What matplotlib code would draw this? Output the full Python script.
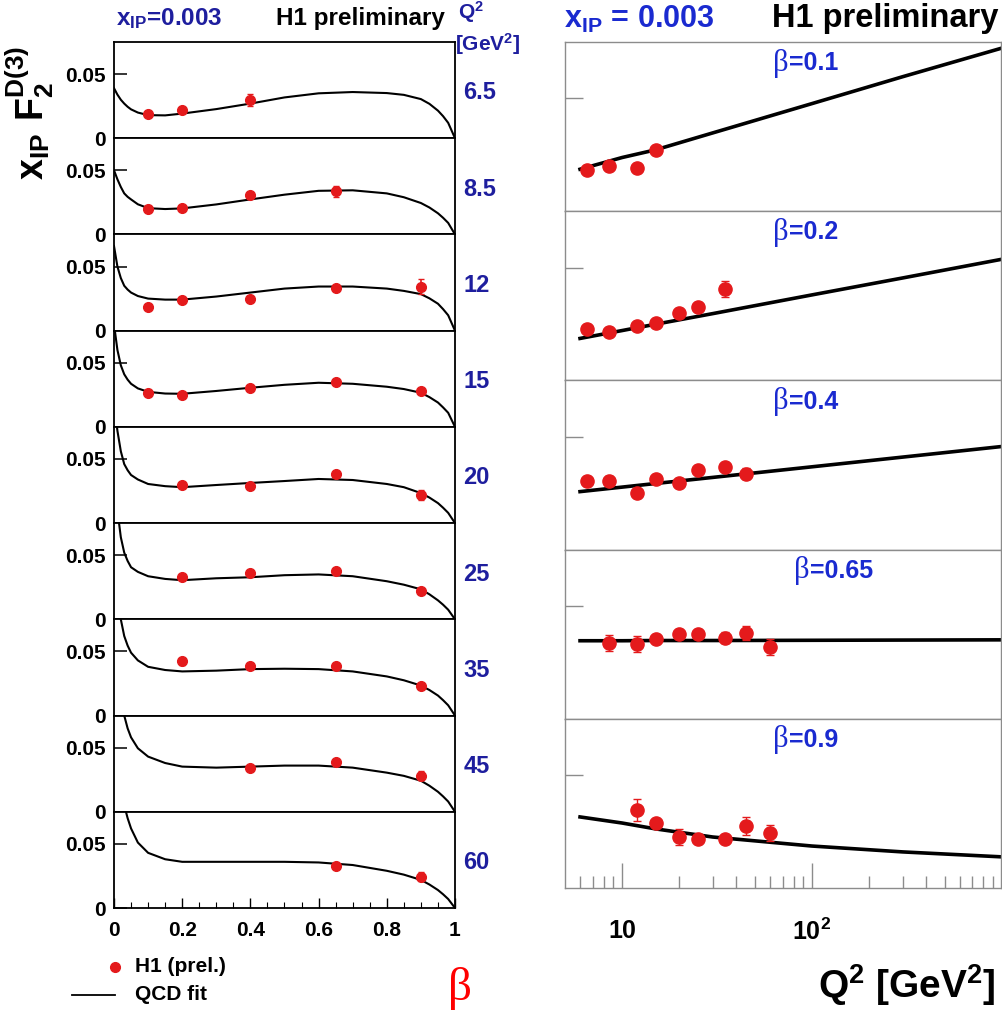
import matplotlib
matplotlib.use("Agg")
import matplotlib.pyplot as plt
from matplotlib.ticker import FixedLocator, NullFormatter, NullLocator

plt.rcParams['font.family'] = ['Liberation Sans', 'DejaVu Sans']
plt.rcParams['mathtext.fontset'] = 'custom'
plt.rcParams['mathtext.rm'] = 'Liberation Sans'
plt.rcParams['mathtext.bf'] = 'Liberation Sans:bold'
plt.rcParams['mathtext.default'] = 'bf'

# ---- left block: xIP F2D3 vs beta, one panel per Q2 ----
q2_labels = ['6.5', '8.5', '12', '15', '20', '25', '35', '45', '60']

left_beta = [
    [0.1, 0.2, 0.4],
    [0.1, 0.2, 0.4, 0.65],
    [0.1, 0.2, 0.4, 0.65, 0.9],
    [0.1, 0.2, 0.4, 0.65, 0.9],
    [0.2, 0.4, 0.65, 0.9],
    [0.2, 0.4, 0.65, 0.9],
    [0.2, 0.4, 0.65, 0.9],
    [0.4, 0.65, 0.9],
    [0.65, 0.9],
]
left_f2 = [
    [0.0188, 0.0219, 0.0297],
    [0.0195, 0.0203, 0.0305, 0.0336],
    [0.0188, 0.0242, 0.0250, 0.0336, 0.0344],
    [0.0266, 0.0250, 0.0305, 0.0352, 0.0281],
    [0.0297, 0.0289, 0.0383, 0.0219],
    [0.0328, 0.0360, 0.0375, 0.0219],
    [0.0422, 0.0383, 0.0383, 0.0227],
    [0.0344, 0.0390, 0.0281],
    [0.0328, 0.0242],
]
left_err = [
    [0.0012, 0.0015, 0.0045],
    [0.0012, 0.0012, 0.0018, 0.0045],
    [0.0012, 0.0012, 0.0015, 0.0020, 0.0055],
    [0.0012, 0.0012, 0.0012, 0.0015, 0.0020],
    [0.0012, 0.0015, 0.0015, 0.0040],
    [0.0020, 0.0015, 0.0015, 0.0015],
    [0.0030, 0.0015, 0.0015, 0.0015],
    [0.0015, 0.0025, 0.0035],
    [0.0020, 0.0035],
]

fit_beta = [0.0, 0.01, 0.02, 0.03, 0.04, 0.05, 0.07, 0.1, 0.15, 0.2, 0.3,
            0.4, 0.5, 0.6, 0.7, 0.8, 0.85, 0.9, 0.925, 0.95, 0.965, 0.98, 1.0]
fit_f2 = [
    [0.039, 0.034, 0.030, 0.027, 0.0245, 0.0225, 0.020, 0.018, 0.0178, 0.0192, 0.0227,
     0.0270, 0.0318, 0.0350, 0.0360, 0.0352, 0.0338, 0.0305, 0.0268, 0.0215, 0.0172, 0.012, 0.0],
    [0.050, 0.043, 0.037, 0.032, 0.0293, 0.0273, 0.0235, 0.0205, 0.0198, 0.0203, 0.0234,
     0.0273, 0.0310, 0.0340, 0.0344, 0.0320, 0.0290, 0.0245, 0.0210, 0.0165, 0.0130, 0.009, 0.0],
    [0.066, 0.050, 0.041, 0.035, 0.0320, 0.0297, 0.027, 0.0250, 0.0242, 0.0242, 0.0266,
     0.0297, 0.0328, 0.0344, 0.0344, 0.0328, 0.0310, 0.0285, 0.0252, 0.0210, 0.0168, 0.012, 0.0],
    [0.080, 0.060, 0.048, 0.041, 0.0368, 0.0336, 0.030, 0.0273, 0.0260, 0.0258, 0.0280,
     0.0305, 0.0328, 0.0344, 0.0336, 0.0313, 0.0295, 0.0266, 0.0232, 0.0190, 0.0152, 0.011, 0.0],
    [0.095, 0.072, 0.056, 0.046, 0.0412, 0.0375, 0.034, 0.0305, 0.0288, 0.0280, 0.0297,
     0.0313, 0.0328, 0.0344, 0.0336, 0.0305, 0.0280, 0.0234, 0.0199, 0.0156, 0.0120, 0.008, 0.0],
    [0.110, 0.085, 0.064, 0.052, 0.0455, 0.0406, 0.037, 0.0336, 0.0315, 0.0305, 0.0320,
     0.0328, 0.0344, 0.0350, 0.0336, 0.0297, 0.0270, 0.0234, 0.0195, 0.0148, 0.0114, 0.0075, 0.0],
    [0.120, 0.095, 0.075, 0.062, 0.0545, 0.0490, 0.043, 0.0380, 0.0355, 0.0344, 0.0350,
     0.0362, 0.0365, 0.0362, 0.0344, 0.0305, 0.0275, 0.0234, 0.0199, 0.0156, 0.0120, 0.008, 0.0],
    [0.130, 0.110, 0.090, 0.075, 0.0650, 0.0580, 0.0495, 0.0430, 0.0380, 0.0352, 0.0344,
     0.0352, 0.0360, 0.0360, 0.0344, 0.0305, 0.0280, 0.0242, 0.0203, 0.0156, 0.0120, 0.008, 0.0],
    [0.140, 0.120, 0.100, 0.080, 0.0700, 0.0620, 0.051, 0.0430, 0.0380, 0.0360, 0.0360,
     0.0360, 0.0360, 0.0355, 0.0335, 0.0290, 0.0260, 0.0219, 0.0183, 0.0140, 0.0107, 0.007, 0.0],
]

# ---- right block: xIP F2D3 vs Q2, one panel per beta ----
beta_labels = ['0.1', '0.2', '0.4', '0.65', '0.9']
right_q2 = [
    [6.5, 8.5, 12, 15],
    [6.5, 8.5, 12, 15, 20, 25, 35],
    [6.5, 8.5, 12, 15, 20, 25, 35, 45],
    [8.5, 12, 15, 20, 25, 35, 45, 60],
    [12, 15, 20, 25, 35, 45, 60],
]
right_f2 = [
    [0.0182, 0.0200, 0.0190, 0.0270],
    [0.0226, 0.0213, 0.0240, 0.0253, 0.0297, 0.0324, 0.0404],
    [0.0302, 0.0306, 0.0249, 0.0311, 0.0293, 0.0355, 0.0368, 0.0337],
    [0.0337, 0.0333, 0.0355, 0.0377, 0.0377, 0.0360, 0.0380, 0.0320],
    [0.0346, 0.0288, 0.0226, 0.0217, 0.0217, 0.0275, 0.0244],
]
right_err = [
    [0.0010, 0.0010, 0.0010, 0.0010],
    [0.0015, 0.0012, 0.0012, 0.0012, 0.0012, 0.0015, 0.0035],
    [0.0020, 0.0020, 0.0012, 0.0012, 0.0012, 0.0015, 0.0015, 0.0025],
    [0.0035, 0.0035, 0.0015, 0.0015, 0.0015, 0.0025, 0.0030, 0.0035],
    [0.0048, 0.0015, 0.0035, 0.0015, 0.0015, 0.0040, 0.0035],
]
fit_q2 = [6, 10, 15, 30, 100, 300, 1000]
fit_right = [
    [0.0186, 0.0238, 0.0272, 0.0347, 0.0477, 0.0596, 0.0723],
    [0.0186, 0.0221, 0.0249, 0.0296, 0.0379, 0.0454, 0.0537],
    [0.0257, 0.0277, 0.0293, 0.0320, 0.0367, 0.0410, 0.0457],
    [0.0346, 0.0346, 0.0347, 0.0347, 0.0348, 0.0349, 0.0350],
    [0.0315, 0.0288, 0.0262, 0.0226, 0.0186, 0.0160, 0.0138],
]

RED = '#e41a1c'
NAVY = '#1e1e9e'
BLUE = '#1a2ad0'
W, H = 1003, 1026

fig = plt.figure(figsize=(W / 100, H / 100), dpi=100)


def frac_box(x0, y0, x1, y1):
    return [x0 / W, 1 - y1 / H, (x1 - x0) / W, (y1 - y0) / H]


# left panels
ptop, pbot = 42, 908
ph = (pbot - ptop) / 9
for i in range(9):
    ax = fig.add_axes(frac_box(114, ptop + i * ph, 455, ptop + (i + 1) * ph))
    ax.plot(fit_beta, fit_f2[i], color='black', lw=1.5, zorder=2)
    ax.errorbar(left_beta[i], left_f2[i], yerr=left_err[i], fmt='o', color=RED,
                ms=7, elinewidth=1.2, capsize=2.5, zorder=3)
    ax.set_xlim(0, 1)
    ax.set_ylim(0, 0.075)
    for s in ax.spines.values():
        s.set_linewidth(1.3)
        s.set_color('black')
    ax.set_yticks([0, 0.05])
    ax.set_yticklabels(['0', '0.05'])
    ax.tick_params(axis='y', direction='in', length=9, width=1.1, pad=6,
                   labelsize=15)
    for lab in ax.get_yticklabels():
        lab.set_fontweight('bold')
    if i < 8:
        ax.xaxis.set_major_locator(NullLocator())
    else:
        ax.set_xticks([0, 0.2, 0.4, 0.6, 0.8, 1.0])
        ax.set_xticklabels(['0', '0.2', '0.4', '0.6', '0.8', '1'])
        ax.xaxis.set_minor_locator(FixedLocator([k * 0.05 for k in range(21)]))
        ax.tick_params(axis='x', which='major', direction='in', length=7,
                       width=1.0, pad=9, labelsize=15)
        ax.tick_params(axis='x', which='minor', direction='in', length=4,
                       width=0.8)
        for lab in ax.get_xticklabels():
            lab.set_fontweight('bold')
    ax.text(1.025, 0.47, q2_labels[i], transform=ax.transAxes, color=NAVY,
            fontsize=17, fontweight='bold', va='center', ha='left')

# right panels
rtop, rbot = 42, 888
rh = (rbot - rtop) / 5
for i in range(5):
    ax = fig.add_axes(frac_box(565, rtop + i * rh, 1001, rtop + (i + 1) * rh))
    ax.set_xscale('log')
    ax.plot(fit_q2, fit_right[i], color='black', lw=2.6, zorder=2)
    ax.errorbar(right_q2[i], right_f2[i], yerr=right_err[i], fmt='o', color=RED,
                ms=9.5, elinewidth=1.0, capsize=3, zorder=3)
    ax.set_xlim(5.0, 990)
    ax.set_ylim(0, 0.075)
    for s in ax.spines.values():
        s.set_linewidth(1.0)
        s.set_color('#8c8c8c')
    ax.set_yticks([0.05])
    ax.set_yticklabels([])
    ax.tick_params(axis='y', direction='in', length=13, width=1.0,
                   color='#8c8c8c')
    if i < 4:
        ax.xaxis.set_major_locator(NullLocator())
        ax.xaxis.set_minor_locator(NullLocator())
    else:
        ax.set_xticks([10, 100])
        ax.set_xticklabels(['10', r'$\mathbf{10^2}$'])
        minors = [6, 7, 8, 9] + [k * 10 for k in range(2, 10)] + [k * 100 for k in range(2, 10)]
        ax.xaxis.set_minor_locator(FixedLocator(minors))
        ax.xaxis.set_minor_formatter(NullFormatter())
        ax.tick_params(axis='x', which='major', direction='in', length=18,
                       width=1.0, color='#8c8c8c', pad=22, labelsize=18)
        ax.tick_params(axis='x', which='minor', direction='in', length=9,
                       width=1.0, color='#8c8c8c')
        for lab in ax.get_xticklabels():
            lab.set_fontweight('bold')
    split = 0.562 if beta_labels[i] == '0.65' else 0.514
    ax.text(split, 0.875, '\u03b2', transform=ax.transAxes, color=BLUE,
            fontsize=22, family='Liberation Serif', ha='right', va='center')
    ax.text(split, 0.875, '=' + beta_labels[i], transform=ax.transAxes,
            color=BLUE, fontsize=18, fontweight='bold', ha='left', va='center')

# headers
fig.text(116 / W, 1 - 19 / H, r'$\mathbf{x_{IP}}$=0.003', color=NAVY,
         fontsize=17.5, fontweight='bold', va='center', ha='left')
fig.text(276 / W, 1 - 18 / H, 'H1 preliminary', color='black', fontsize=17.5,
         fontweight='bold', va='center', ha='left')
fig.text(458 / W, 1 - 12 / H, r'$\mathbf{Q^2}$', color=NAVY, fontsize=15,
         va='center', ha='left')
fig.text(455 / W, 1 - 44 / H, r'[GeV$\mathbf{^2}$]', color=NAVY, fontsize=15,
         fontweight='bold', va='center', ha='left')
fig.text(564 / W, 1 - 19 / H, r'$\mathbf{x_{IP}}$ = 0.003', color=BLUE,
         fontsize=22, fontweight='bold', va='center', ha='left')
fig.text(998 / W, 1 - 18 / H, 'H1 preliminary', color='black', fontsize=23.5,
         fontweight='bold', va='center', ha='right')

# y axis title of the left block
fig.text(30 / W, 1 - 113 / H, r'$\mathbf{x_{IP}\ F_2^{D(3)}}$', color='black',
         fontsize=27, rotation=90, va='center', ha='center')

# legend at the bottom left
leg = fig.add_axes([0, 0, 1, 1], facecolor='none')
leg.set_xlim(0, W)
leg.set_ylim(H, 0)
leg.axis('off')
leg.plot([115], [967], 'o', color=RED, ms=7)
leg.plot([72, 115], [995, 995], color='black', lw=1.3)
leg.text(135, 967, 'H1 (prel.)', fontsize=15, fontweight='bold', va='center')
leg.text(135, 995, 'QCD fit', fontsize=15, fontweight='bold', va='center')

# axis titles
fig.text(460 / W, 1 - 988 / H, '\u03b2', color='red', fontsize=34,
         family='Liberation Serif', ha='center', va='center')
fig.text(996 / W, 1 - 985 / H, r'Q$\mathbf{^2}$ [GeV$\mathbf{^2}$]',
         color='black', fontsize=28, fontweight='bold', ha='right', va='center')

fig.savefig('out.png', dpi=100)
